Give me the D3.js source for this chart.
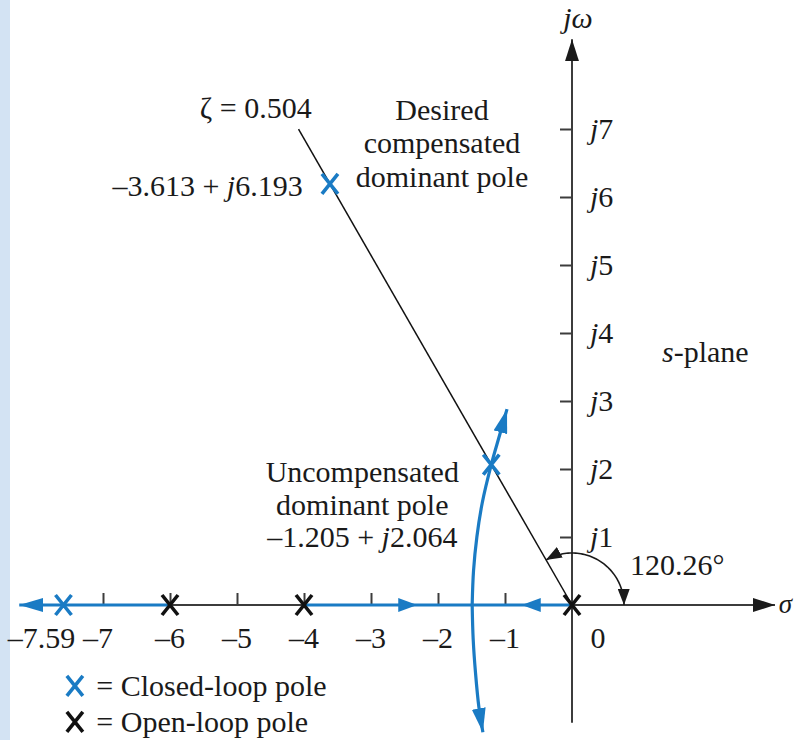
<!DOCTYPE html>
<html><head><meta charset="utf-8">
<script src="https://cdn.jsdelivr.net/npm/d3@7"></script>
<style>
html,body{margin:0;padding:0;background:#fff;}
svg text{font-family:"Liberation Serif","Times New Roman",serif;fill:#1a1a1a;}
</style></head>
<body><svg id="c" width="795" height="740"></svg>
<script>
// ---------- data ----------
const xTicks = [-7, -6, -5, -4, -3, -2, -1];
const xTickLabels = ["–7.59", "–7", "–6", "–5", "–4", "–3", "–2", "–1", "0"];
const xTickLabelValues = [-7.59, -7, -6, -5, -4, -3, -2, -1, 0];
const yTicks = [1, 2, 3, 4, 5, 6, 7];
const yTickLabels = ["1", "2", "3", "4", "5", "6", "7"];
const openLoopPoles = [[-6, 0], [-4, 0], [0, 0]];
const closedLoopPoles = [[-7.59, 0], [-1.205, 2.064], [-3.613, 6.193]];
const realAxisLocus = [[-8.25, -6], [-4, 0]];
const upperBranch = [[-1.49, 0], [-1.47, 0.5], [-1.42, 1.0], [-1.34, 1.5], [-1.205, 2.064], [-1.08, 2.5], [-0.97, 2.88]];
const lowerBranch = [[-1.49, 0], [-1.475, -0.5], [-1.44, -1.0], [-1.39, -1.5], [-1.33, -1.87]];
const realAxisArrows = [[-2.31, 1], [-0.75, -1]];
const zeta = 0.504;
const zetaLineLength = 8.1;
const angleDeg = 120.26;

// ---------- scales ----------
const ux = 67, uy = 68, ox = 572, oy = 605;
const x = d3.scaleLinear().domain([-8.5, 3.2]).range([ox - 8.5 * ux, ox + 3.2 * ux]);
const y = d3.scaleLinear().domain([-2, 8.5]).range([oy + 2 * uy, oy - 8.5 * uy]);

const BLUE = "#1a7bc4", AX = "#3c3c3c", FS = 30;
const svg = d3.select("#c");

svg.append("rect").attr("x", 0).attr("y", 0).attr("width", 10).attr("height", 740).attr("fill", "#d3e3f3");

const defs = svg.append("defs");
function marker(id, color, len, hw) {
  defs.append("marker").attr("id", id).attr("markerUnits", "userSpaceOnUse")
    .attr("viewBox", `0 ${-hw} ${len} ${2 * hw}`).attr("refX", len).attr("refY", 0)
    .attr("markerWidth", len).attr("markerHeight", 2 * hw).attr("orient", "auto-start-reverse")
    .append("path").attr("d", `M0,${-hw}L${len},0L0,${hw}Z`).attr("fill", color);
}
marker("axArrow", "#1a1a1a", 22, 7);
marker("blArrow", BLUE, 24, 7);
marker("arcArrow", "#1a1a1a", 16, 6);

// ---------- axes ----------
svg.append("line").attr("x1", x(-8.2)).attr("y1", y(0)).attr("x2", x(3.03)).attr("y2", y(0))
  .attr("stroke", AX).attr("stroke-width", 2).attr("marker-end", "url(#axArrow)");
svg.append("line").attr("x1", x(0)).attr("y1", y(-1.73)).attr("x2", x(0)).attr("y2", y(8.32))
  .attr("stroke", AX).attr("stroke-width", 2).attr("marker-end", "url(#axArrow)");

const gx = svg.append("g").attr("transform", `translate(0,${y(0)})`)
  .call(d3.axisTop(x).tickValues(xTicks).tickSize(12).tickFormat(""));
gx.select(".domain").remove();
gx.selectAll("line").attr("stroke", AX).attr("stroke-width", 2);

const gy = svg.append("g").attr("transform", `translate(${x(0)},0)`)
  .call(d3.axisLeft(y).tickValues(yTicks).tickSize(12).tickFormat(""));
gy.select(".domain").remove();
gy.selectAll("line").attr("stroke", AX).attr("stroke-width", 2);

// x tick labels
const xLabelShift = {"-7.59": -22, "-7": -5, "0": 26};
svg.append("g").selectAll("text").data(xTickLabelValues).join("text")
  .attr("x", (d) => x(d) + (xLabelShift[String(d)] || 0))
  .attr("y", y(0) + 43).attr("text-anchor", "middle").attr("font-size", FS)
  .text((d, i) => xTickLabels[i]);

// y tick labels
const yl = svg.append("g").selectAll("text").data(yTicks).join("text")
  .attr("x", x(0) + 18).attr("y", (d) => y(d) + 10).attr("font-size", FS);
yl.append("tspan").attr("font-style", "italic").text("j");
yl.append("tspan").text((d, i) => yTickLabels[i]);

// axis names
svg.append("text").attr("x", x(0) + 6).attr("y", y(8.49)).attr("text-anchor", "middle").attr("font-size", FS).attr("font-style", "italic").text("jω");
svg.append("text").attr("x", 792).attr("y", y(-0.12)).attr("text-anchor", "end").attr("font-size", 27).attr("font-style", "italic").text("σ");

// ---------- zeta line ----------
const th = angleDeg * Math.PI / 180;
svg.append("line").attr("x1", x(0)).attr("y1", y(0))
  .attr("x2", x(zetaLineLength * Math.cos(th))).attr("y2", y(zetaLineLength * Math.sin(th)))
  .attr("stroke", "#111").attr("stroke-width", 1.5);

// angle arc
const r = 52;
const arcPts = d3.range(0, 61).map((i) => {
  const a = th * (1 - i / 60);
  return [x(0) + r * Math.cos(a), y(0) - r * Math.sin(a)];
});
svg.append("path").attr("d", d3.line()(arcPts)).attr("fill", "none").attr("stroke", "#1a1a1a").attr("stroke-width", 1.6)
  .attr("marker-start", "url(#arcArrow)").attr("marker-end", "url(#arcArrow)");

// ---------- root locus ----------
realAxisLocus.forEach((seg) => {
  svg.append("line").attr("x1", x(seg[0])).attr("y1", y(0)).attr("x2", x(seg[1])).attr("y2", y(0))
    .attr("stroke", BLUE).attr("stroke-width", 3.2)
    .attr("marker-start", seg[0] < -8 ? "url(#blArrow)" : null);
});
realAxisArrows.forEach(([v, dir]) => {
  const tx = x(v), len = 19, hw = 7;
  svg.append("path").attr("d", `M${tx},${y(0)}L${tx - dir * len},${y(0) - hw}L${tx - dir * len},${y(0) + hw}Z`).attr("fill", BLUE);
});
const line = d3.line().x((d) => x(d[0])).y((d) => y(d[1])).curve(d3.curveCatmullRom);
[upperBranch, lowerBranch].forEach((b) => {
  svg.append("path").attr("d", line(b)).attr("fill", "none").attr("stroke", BLUE).attr("stroke-width", 3.2)
    .attr("marker-end", "url(#blArrow)");
});

// ---------- poles ----------
function xMark(g, cx, cy, color) {
  const hw = 8, hh = 10;
  g.append("path").attr("d", `M${cx - hw},${cy - hh}L${cx + hw},${cy + hh}M${cx + hw},${cy - hh}L${cx - hw},${cy + hh}`)
    .attr("stroke", color).attr("stroke-width", 3.6).attr("fill", "none");
}
const pg = svg.append("g");
closedLoopPoles.forEach((p) => xMark(pg, x(p[0]), y(p[1]), BLUE));
openLoopPoles.forEach((p) => xMark(pg, x(p[0]), y(p[1]), "#111"));

// ---------- annotations ----------
function txt(tx, ty, anchor, parts) {
  const t = svg.append("text").attr("x", tx).attr("y", ty).attr("text-anchor", anchor).attr("font-size", FS);
  parts.forEach((p) => {
    const s = t.append("tspan").text(p[0]);
    if (p[1]) s.attr("font-style", "italic");
  });
  return t;
}
txt(x(-4.72), y(7.16), "middle", [["ζ = " + zeta]]);
txt(x(-1.94), y(7.13), "middle", [["Desired"]]);
txt(x(-1.94), y(6.65), "middle", [["compensated"]]);
txt(x(-1.94), y(6.15), "middle", [["dominant pole"]]);
txt(x(-4.02), y(6.01), "end", [["–3.613 + "], ["j", 1], ["6.193"]]);
txt(x(-3.13), y(1.81), "middle", [["Uncompensated"]]);
txt(x(-3.13), y(1.32), "middle", [["dominant pole"]]);
txt(x(-3.13), y(0.85), "middle", [["–1.205 + "], ["j", 1], ["2.064"]]);
txt(x(1.99), y(3.57), "middle", [["s", 1], ["-plane"]]);
txt(x(1.57), y(0.44), "middle", [[angleDeg + "°"]]);

// legend
const lg = svg.append("g");
xMark(lg, x(-7.42), y(-1.19), BLUE);
xMark(lg, x(-7.42), y(-1.72), "#111");
txt(x(-7.1), y(-1.19) + 10, "start", [["= Closed-loop pole"]]);
txt(x(-7.1), y(-1.72) + 10, "start", [["= Open-loop pole"]]);
</script></body></html>
